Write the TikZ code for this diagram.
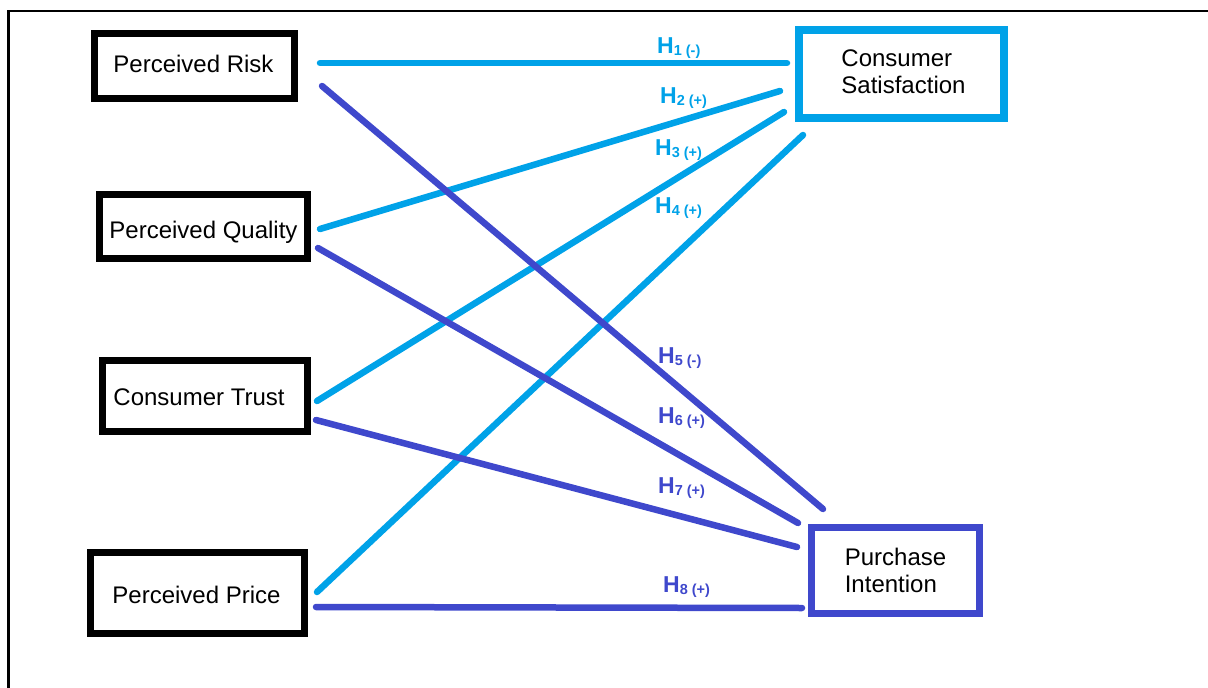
\documentclass[tikz,border=0pt]{standalone}
\usepackage{fontspec}
\setmainfont{Liberation Sans}
\definecolor{skyline}{RGB}{0,162,232}
\definecolor{indigoline}{RGB}{63,72,204}
\newcommand\hyplabel[2]{H\raisebox{-2pt}{\fontsize{14.5}{14.5}\selectfont #1 (#2)}}
% text set with its baseline at a given offset below the box centre
\newcommand\boxtext[2]{\raisebox{-#1}[0pt][0pt]{#2}}
\begin{document}
\begin{tikzpicture}[x=1pt, y=-1pt,
  font=\fontsize{24}{27}\selectfont,
  construct/.style={draw, line width=7pt, inner sep=0pt, align=left, text=black},
  hyp/.style={line width=6.5pt, line cap=round},
  hlabel/.style={anchor=base west, inner sep=0pt, font=\fontsize{23}{23}\selectfont\bfseries}]
\useasboundingbox (0,0) rectangle (1208,688);
% outer frame (top and left edges)
\draw[line width=2.5pt] (8.5,688) -- (8.5,11) -- (1208,11);

% constructs
\node[construct, minimum width=200pt, minimum height=65pt] (risk) at (194.5,66) {\boxtext{6pt}{Perceived Risk}\hspace*{2pt}};
\node[construct, minimum width=208pt, minimum height=64pt] (quality) at (203.5,226.5) {\boxtext{11.5pt}{Perceived Quality}};
\node[construct, minimum width=205pt, minimum height=71pt] (trust) at (205,396) {\boxtext{9pt}{Consumer Trust}\hspace*{12pt}};
\node[construct, minimum width=214pt, minimum height=81pt] (price) at (197.5,593) {\boxtext{10pt}{Perceived Price}\hspace*{2pt}};
\node[construct, draw=skyline, line width=8pt, minimum width=205pt, minimum height=88pt] (sat) at (901.5,74) {\raisebox{4pt}{Consumer}\\\raisebox{4pt}{Satisfaction}\hspace*{-4pt}};
\node[construct, draw=indigoline, minimum width=168pt, minimum height=86pt] (pi) at (895.5,570.5) {Purchase\\Intention};

% hypotheses towards consumer satisfaction
\draw[hyp, skyline] ([shift={(22,-3)}]risk.east) -- ([shift={(-8,-11)}]sat.west);
\draw[hyp, skyline] ([shift={(9,2.5)}]quality.east) -- ([shift={(-15,17)}]sat.west);
\draw[hyp, skyline] ([shift={(6,5)}]trust.east) -- ([shift={(-11,38)}]sat.west);
\draw[hyp, skyline] ([shift={(9,-1)}]price.east) -- ([shift={(8,13)}]sat.south west);

% hypotheses towards purchase intention
\draw[hyp, indigoline] ([shift={(24,20)}]risk.east) -- ([shift={(15,-15)}]pi.north west);
\draw[hyp, indigoline] ([shift={(7,21.5)}]quality.east) -- ([shift={(-10,-47.5)}]pi.west);
\draw[hyp, indigoline] ([shift={(5,24)}]trust.east) -- ([shift={(-11,-23.5)}]pi.west);
\draw[hyp, indigoline] ([shift={(8,14)}]price.east) -- ([shift={(-6,37.5)}]pi.west);

% hypothesis labels
\node[hlabel, text=skyline] (h1) at (657,53) {\hyplabel{1}{-}};
\node[hlabel, text=skyline] (h2) at (660,103) {\hyplabel{2}{+}};
\node[hlabel, text=skyline] (h3) at (655,155) {\hyplabel{3}{+}};
\node[hlabel, text=skyline] (h4) at (655,213) {\hyplabel{4}{+}};
\node[hlabel, text=indigoline] (h5) at (658,363) {\hyplabel{5}{-}};
\node[hlabel, text=indigoline] (h6) at (658,423) {\hyplabel{6}{+}};
\node[hlabel, text=indigoline] (h7) at (658,493) {\hyplabel{7}{+}};
\node[hlabel, text=indigoline] (h8) at (663,592) {\hyplabel{8}{+}};
\end{tikzpicture}
\end{document}
